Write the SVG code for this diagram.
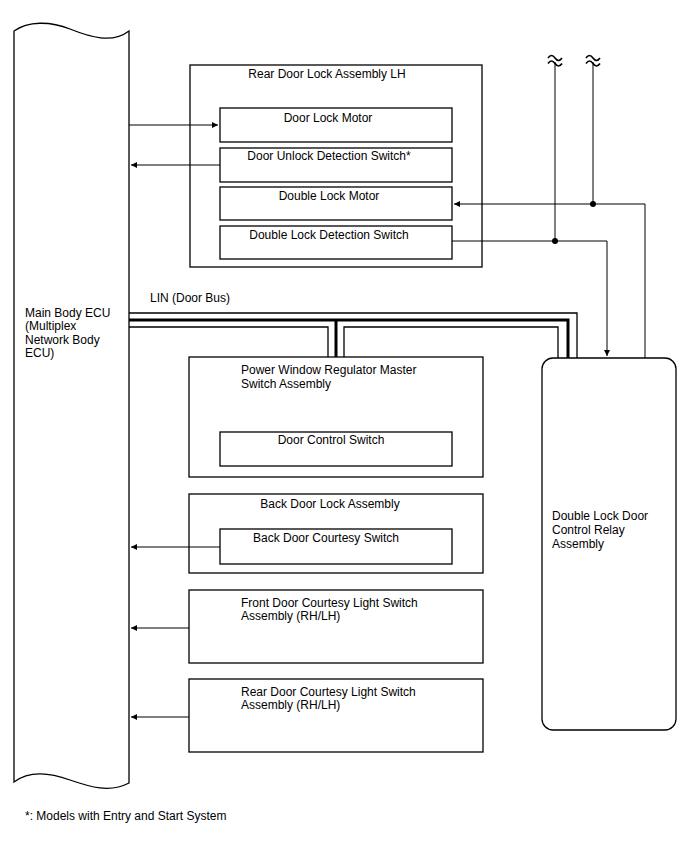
<svg xmlns="http://www.w3.org/2000/svg" width="688" height="852" viewBox="0 0 688 852">
<defs>
<marker id="ah" viewBox="0 0 10 10" refX="10" refY="5" markerWidth="8" markerHeight="6" markerUnits="userSpaceOnUse" orient="auto">
<path d="M0,0 L10,5 L0,10 Z" fill="#000"/>
</marker>
<style>
.box{fill:#fff;stroke:#000;stroke-width:1.3}
.w{fill:none;stroke:#000;stroke-width:1}
.bus{fill:none;stroke:#000;stroke-width:1.3}
.thick{fill:none;stroke:#000;stroke-width:3}
.brk{fill:none;stroke:#000;stroke-width:1.6}
.t{font-family:"Liberation Sans",Arial,sans-serif;font-size:12px;fill:#000}
.c{text-anchor:middle}
</style>
</defs>
<rect width="688" height="852" fill="#fff"/>

<g id="ecu">
<path class="box" d="M14,31 C28,21 50,21 70,29 C90,37 112,44 129,31 L129,783 C110,793 90,787 70,780 C50,773 30,770 14,782 Z"/>
<text class="t" x="25" y="317">Main Body ECU</text>
<text class="t" x="25" y="330">(Multiplex</text>
<text class="t" x="25" y="344">Network Body</text>
<text class="t" x="25" y="357">ECU)</text>
</g>

<g id="rear-door-lock">
<rect class="box" x="190" y="65" width="292" height="202"/>
<text class="t c" x="327" y="78">Rear Door Lock Assembly LH</text>
</g>
<g id="door-lock-motor">
<rect class="box" x="220" y="108" width="232" height="34"/>
<text class="t c" x="328" y="122">Door Lock Motor</text>
</g>
<g id="door-unlock-switch">
<rect class="box" x="220" y="148" width="232" height="34"/>
<text class="t c" x="329" y="160">Door Unlock Detection Switch*</text>
</g>
<g id="double-lock-motor">
<rect class="box" x="220" y="187" width="232" height="33"/>
<text class="t c" x="329" y="200">Double Lock Motor</text>
</g>
<g id="double-lock-switch">
<rect class="box" x="220" y="226" width="232" height="33"/>
<text class="t c" x="329" y="239">Double Lock Detection Switch</text>
</g>

<g id="power-window">
<rect class="box" x="189" y="357" width="294" height="120"/>
<text class="t" x="241" y="374">Power Window Regulator Master</text>
<text class="t" x="241" y="388">Switch Assembly</text>
</g>
<g id="door-control-switch">
<rect class="box" x="220" y="432" width="232" height="34"/>
<text class="t c" x="331" y="444">Door Control Switch</text>
</g>

<g id="back-door-lock">
<rect class="box" x="189" y="494" width="294" height="79"/>
<text class="t c" x="330" y="508">Back Door Lock Assembly</text>
</g>
<g id="back-door-courtesy">
<rect class="box" x="220" y="529" width="232" height="35"/>
<text class="t c" x="326" y="542">Back Door Courtesy Switch</text>
</g>

<g id="front-courtesy">
<rect class="box" x="189" y="590" width="294" height="73"/>
<text class="t" x="241" y="607">Front Door Courtesy Light Switch</text>
<text class="t" x="241" y="620">Assembly (RH/LH)</text>
</g>
<g id="rear-courtesy">
<rect class="box" x="189" y="679" width="294" height="73"/>
<text class="t" x="241" y="696">Rear Door Courtesy Light Switch</text>
<text class="t" x="241" y="709">Assembly (RH/LH)</text>
</g>

<g id="relay">
<rect class="box" x="542" y="358" width="134" height="372" rx="11" ry="11"/>
<text class="t" x="552" y="520">Double Lock Door</text>
<text class="t" x="552" y="534">Control Relay</text>
<text class="t" x="552" y="548">Assembly</text>
</g>

<g id="connectors">
<path class="w" d="M129,125 H218" marker-end="url(#ah)"/>
<path class="w" d="M220,165 H131" marker-end="url(#ah)"/>
<path class="w" d="M220,547 H131" marker-end="url(#ah)"/>
<path class="w" d="M189,628 H131" marker-end="url(#ah)"/>
<path class="w" d="M189,717 H131" marker-end="url(#ah)"/>
<!-- LIN bus -->
<path class="bus" d="M129,313 H577 V358"/>
<path class="thick" d="M129,320 H568 V358"/>
<path class="thick" d="M336,320 V357"/>
<path class="bus" d="M129,327 H328 V357"/>
<path class="bus" d="M344,357 V327 H558 V358"/>
<!-- double lock wires -->
<path class="w" d="M645,358 V204 H454" marker-end="url(#ah)"/>
<path class="w" d="M593,62 V204"/>
<path class="w" d="M452,241 H607 V356" marker-end="url(#ah)"/>
<path class="w" d="M555,62 V241"/>
<circle cx="593" cy="204" r="3" fill="#000"/>
<circle cx="555" cy="241" r="3" fill="#000"/>
<path class="brk" d="M548,58 q3.5,-5 7,0 t7,0 M548,63.5 q3.5,-5 7,0 t7,0"/>
<path class="brk" d="M586,58 q3.5,-5 7,0 t7,0 M586,63.5 q3.5,-5 7,0 t7,0"/>
</g>

<text class="t" x="150" y="302">LIN (Door Bus)</text>
<text class="t" x="25" y="820">*: Models with Entry and Start System</text>
</svg>
